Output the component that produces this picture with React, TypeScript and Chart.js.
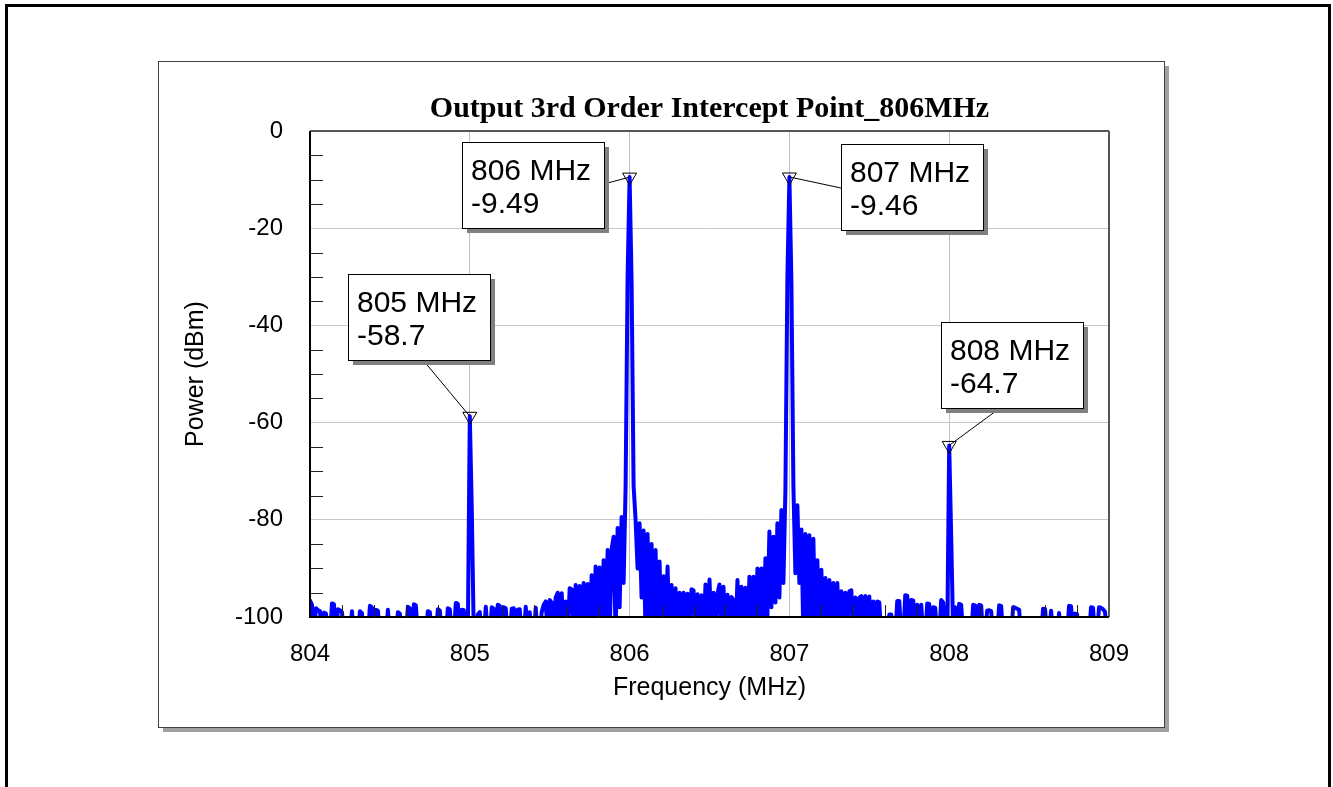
import React, { useEffect, useRef } from "react";
import { Chart, registerables } from "chart.js";

Chart.register(...registerables);

// ---------------- data ----------------
// spectrum samples, one every FREQ_STEP_MHZ starting at FREQ_START_MHZ
const FREQ_START_MHZ = 804;
const FREQ_STEP_MHZ = 0.0125;

// 804.0000 .. 804.9875 MHz (dBm, values below -100 are under the axis floor)
const POWER_804 = [
  -96.6, -97.5, -104, -98.2, -98.6, -98.8, -104, -99.1, -99.3, -104,
  -104, -97.2, -97.4, -104, -98.4, -98.6, -99, -104, -104, -104,
  -104, -98.8, -104, -104, -104, -98.8, -99.2, -104, -104, -104,
  -97.7, -98, -104, -98.5, -98.7, -104, -104, -104, -104, -98.5,
  -104, -104, -104, -104, -99, -99.3, -104, -104, -104, -97.9,
  -98.2, -104, -97.4, -97.6, -104, -104, -104, -104, -104, -98.8,
  -99, -104, -104, -104, -98.4, -98.7, -104, -104, -104, -98.2,
  -98.4, -104, -104, -97.1, -97.3, -104, -98.5, -98.6, -104, -104,
];
// 805.0000 .. 805.9875 MHz
const POWER_805 = [
  -58.7, -78, -104, -104, -99.5, -99, -104, -104, -97.9, -104,
  -104, -98, -98.3, -104, -97.5, -97.7, -104, -98, -98.2, -104,
  -104, -98.3, -98.2, -104, -98.5, -98.4, -104, -104, -97.9, -104,
  -99, -104, -104, -98.1, -104, -104, -99, -97.5, -96.8, -104,
  -96.5, -97, -104, -96, -95, -104, -95.1, -104, -96.8, -104,
  -94.1, -94.3, -104, -93.4, -104, -93.6, -104, -93, -104, -93.2,
  -104, -91.4, -104, -89.6, -104, -89.8, -104, -88.3, -104, -86.2,
  -104, -86, -83.5, -104, -81.7, -98, -79.4, -93, -73.2, -30,
];
// 806.0000 .. 806.9875 MHz
const POWER_806 = [
  -9.49, -31, -73, -80, -90, -80.7, -96, -82.2, -104, -82.9,
  -104, -85, -104, -86.2, -104, -88.6, -104, -91.6, -104, -89.6,
  -104, -93.4, -104, -94.1, -104, -95, -104, -95, -104, -95.2,
  -104, -94.3, -94.5, -104, -95.3, -104, -95.5, -104, -93.3, -104,
  -92.3, -104, -95, -104, -95.2, -93.3, -104, -93.8, -104, -95.4,
  -104, -95.9, -96.5, -104, -92.4, -104, -93.8, -104, -94, -104,
  -91.7, -104, -91.7, -104, -90, -104, -90, -104, -87.9, -100,
  -82.4, -98, -83.5, -97, -80.7, -96, -78, -93, -73.9, -30,
];
// 807.0000 .. 807.9875 MHz
const POWER_807 = [
  -9.46, -31, -73, -91, -77, -93, -82, -104, -82.9, -104,
  -83.2, -104, -83.9, -104, -88.3, -104, -90.3, -104, -92, -104,
  -92.4, -104, -93, -104, -93, -104, -94.7, -104, -95, -104,
  -94.7, -94.5, -104, -96, -104, -96, -95.7, -104, -95.7, -104,
  -95.8, -104, -96.8, -104, -96.8, -97, -104, -104, -104, -104,
  -99.5, -99.5, -104, -104, -96.7, -96.7, -104, -104, -95.5, -95.6,
  -104, -96.5, -96.6, -104, -97.5, -104, -97.5, -104, -104, -97.2,
  -97.3, -104, -98, -98.1, -104, -104, -96.5, -97, -104, -104,
];
// 808.0000 .. 808.9875 MHz
const POWER_808 = [
  -64.7, -83.5, -104, -98, -104, -97.3, -97.5, -104, -104, -104,
  -104, -104, -97.5, -97.6, -104, -97.5, -97.6, -104, -104, -98.7,
  -98.6, -98.8, -104, -104, -104, -97.6, -97.7, -104, -104, -104,
  -104, -104, -98, -98.1, -98.3, -98.5, -104, -104, -104, -104,
  -104, -104, -104, -104, -104, -104, -104, -98.3, -98.4, -104,
  -104, -98.7, -104, -104, -104, -99.2, -104, -104, -104, -104,
  -97.7, -97.8, -104, -99.3, -99.4, -104, -104, -104, -104, -104,
  -104, -98, -98.1, -104, -104, -98, -98.1, -98.4, -98.9, -104,
];
// 809.0000 MHz
const POWER_809 = [-104];

const X_TICK_VALUES = [804, 805, 806, 807, 808, 809];
const Y_TICK_VALUES = [0, -20, -40, -60, -80, -100];

const MARKER_FREQ_MHZ = [805, 806, 807, 808];
const MARKER_POWER_DBM = [-58.7, -9.49, -9.46, -64.7];

const TITLE = "Output 3rd Order Intercept Point_806MHz";
const X_TITLE = "Frequency (MHz)";
const Y_TITLE = "Power (dBm)";

// ---------------- layout / style ----------------
const W = 1333;
const H = 787;
const SANS = '"Liberation Sans", Arial, sans-serif';
const SERIF = '"Liberation Serif", "Times New Roman", serif';
const BOX_W = 142;
const BOX_H = 86;
// box position relative to its marker point, and where the leader line leaves the box
const BOX_OFFSETS = [
  { dx: -122, dy: -142, ax: 75, ay: 86 },
  { dx: -168, dy: -35, ax: 142, ay: 42 },
  { dx: 52, dy: -33, ax: 0, ay: 44 },
  { dx: -8, dy: -123, ax: 59, ay: 86 },
];

const spectrum = [POWER_804, POWER_805, POWER_806, POWER_807, POWER_808, POWER_809]
  .flat()
  .map((p, i) => ({ x: FREQ_START_MHZ + i * FREQ_STEP_MHZ, y: p }));

function seg(ctx: CanvasRenderingContext2D, x1: number, y1: number, x2: number, y2: number) {
  ctx.beginPath();
  ctx.moveTo(x1, y1);
  ctx.lineTo(x2, y2);
  ctx.stroke();
}

const decorPlugin = {
  id: "decor",
  beforeDraw(chart: any) {
    const ctx: CanvasRenderingContext2D = chart.ctx;
    ctx.save();
    ctx.fillStyle = "#ffffff";
    ctx.fillRect(0, 0, W, H);
    // outer frame
    ctx.strokeStyle = "#000";
    ctx.lineWidth = 3;
    ctx.strokeRect(6.5, 5.5, 1323, 800);
    // inner panel with shadow
    ctx.fillStyle = "#a0a0a0";
    ctx.fillRect(163, 66, 1006, 666);
    ctx.fillStyle = "#ffffff";
    ctx.fillRect(158, 61, 1006, 666);
    ctx.strokeStyle = "#404040";
    ctx.lineWidth = 1;
    ctx.strokeRect(158.5, 61.5, 1006, 666);
    ctx.restore();
  },
  afterDraw(chart: any) {
    const ctx: CanvasRenderingContext2D = chart.ctx;
    const a = chart.chartArea;
    const xs = chart.scales.x;
    const ys = chart.scales.y;
    ctx.save();
    // plot frame
    ctx.lineWidth = 2;
    ctx.strokeStyle = "#555";
    seg(ctx, a.left, a.top, a.right, a.top);
    seg(ctx, a.right, a.top, a.right, a.bottom);
    ctx.strokeStyle = "#000";
    seg(ctx, a.left, a.top, a.left, a.bottom + 1);
    seg(ctx, a.left - 1, a.bottom, a.right, a.bottom);
    // minor ticks inside the frame
    ctx.lineWidth = 1;
    ctx.strokeStyle = "#222";
    for (let v = -5; v > -100; v -= 5) {
      if (v % 20 !== 0) {
        const py = Math.round(ys.getPixelForValue(v)) + 0.5;
        seg(ctx, a.left, py, a.left + 13, py);
      }
    }
    for (let k = 1; k < 25; k++) {
      if (k % 5 !== 0) {
        const px = Math.round(xs.getPixelForValue(804 + k * 0.2)) + 0.5;
        seg(ctx, px, a.bottom, px, a.bottom - 12);
      }
    }
    // title
    ctx.fillStyle = "#000";
    ctx.font = `bold 30px ${SERIF}`;
    ctx.textAlign = "center";
    ctx.textBaseline = "alphabetic";
    ctx.fillText(TITLE, (a.left + a.right) / 2, 117);

    // markers with call-out boxes
    MARKER_FREQ_MHZ.forEach((f, i) => {
      const val = MARKER_POWER_DBM[i];
      const px = xs.getPixelForValue(f);
      const py = ys.getPixelForValue(val);
      const o = BOX_OFFSETS[i];
      const bx = Math.round(px + o.dx);
      const by = Math.round(py + o.dy);
      ctx.strokeStyle = "#000";
      ctx.lineWidth = 1;
      seg(ctx, bx + o.ax, by + o.ay, px, py);
      ctx.beginPath();
      ctx.moveTo(px - 7, py - 4);
      ctx.lineTo(px + 7, py - 4);
      ctx.lineTo(px, py + 8);
      ctx.closePath();
      ctx.stroke();
      ctx.fillStyle = "#808080";
      ctx.fillRect(bx + 5, by + 5, BOX_W, BOX_H);
      ctx.fillStyle = "#ffffff";
      ctx.fillRect(bx, by, BOX_W, BOX_H);
      ctx.strokeStyle = "#000";
      ctx.strokeRect(bx + 0.5, by + 0.5, BOX_W, BOX_H);
      ctx.fillStyle = "#000";
      ctx.font = `30px ${SANS}`;
      ctx.textAlign = "left";
      ctx.textBaseline = "alphabetic";
      ctx.fillText(`${f} MHz`, bx + 9, by + 38);
      ctx.fillText(String(val), bx + 9, by + 71);
    });
    ctx.restore();
  },
};

export default function App() {
  const ref = useRef<HTMLCanvasElement | null>(null);
  useEffect(() => {
    const canvas = ref.current;
    if (!canvas) return;
    const tickFont = { family: SANS, size: 24 };
    const titleFont = { family: SANS, size: 25 };
    const chart = new Chart(canvas, {
      type: "line",
      data: {
        datasets: [
          {
            data: spectrum,
            borderColor: "#0000ff",
            borderWidth: 4,
            pointRadius: 0,
            tension: 0,
            borderJoinStyle: "round",
            borderCapStyle: "round",
            fill: false,
            clip: 0,
          } as any,
        ],
      },
      options: {
        responsive: false,
        animation: false,
        devicePixelRatio: 1,
        events: [],
        layout: { padding: { left: 181, right: 224, top: 131, bottom: 84 } },
        plugins: {
          legend: { display: false },
          tooltip: { enabled: false },
          title: { display: false },
        },
        scales: {
          x: {
            type: "linear",
            min: 804,
            max: 809,
            afterBuildTicks: (s: any) => {
              s.ticks = X_TICK_VALUES.map((v) => ({ value: v }));
            },
            afterFit: (s: any) => {
              s.height = 86;
            },
            ticks: { font: tickFont, color: "#000", padding: 23, maxRotation: 0, autoSkip: false },
            grid: { color: "#c0c0c0", lineWidth: 1, drawTicks: false },
            border: { display: false },
            title: { display: true, text: X_TITLE, font: titleFont, color: "#000", padding: 0 },
          },
          y: {
            type: "linear",
            min: -100,
            max: 0,
            afterBuildTicks: (s: any) => {
              s.ticks = Y_TICK_VALUES.map((v) => ({ value: v }));
            },
            afterFit: (s: any) => {
              s.width = 129;
            },
            ticks: { font: tickFont, color: "#000", padding: 27, autoSkip: false },
            grid: { color: "#c8c8c8", lineWidth: 1, drawTicks: false },
            border: { display: false },
            title: { display: true, text: Y_TITLE, font: titleFont, color: "#000", padding: 0 },
          },
        },
      },
      plugins: [decorPlugin],
    } as any);
    return () => chart.destroy();
  }, []);
  return (
    <div style={{ position: "fixed", left: 0, top: 0, width: W, height: H, background: "#fff" }}>
      <canvas ref={ref} width={W} height={H} style={{ display: "block", width: W, height: H }} />
    </div>
  );
}
